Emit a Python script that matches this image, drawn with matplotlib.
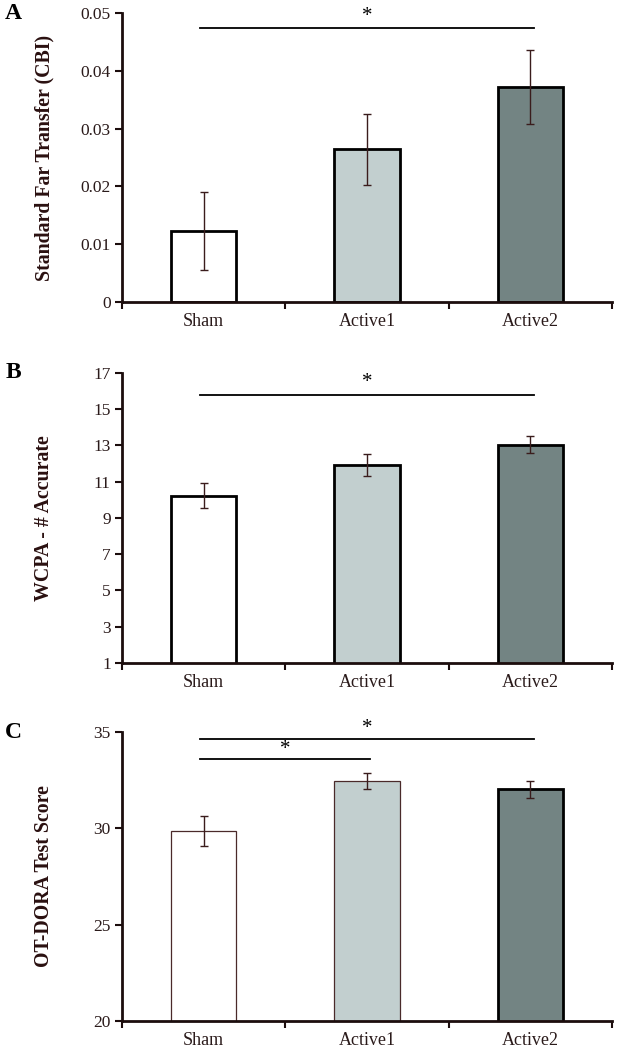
import numpy as np
import matplotlib.pyplot as plt
from matplotlib.ticker import FixedLocator

groups = ['Sham', 'Active1', 'Active2']
bar_colors = ['#ffffff', '#c2cfcf', '#738483']

# panel A - standard far transfer (CBI)
far_mean = [0.0123, 0.0264, 0.0372]
far_err = [0.0068, 0.0062, 0.0064]

# panel B - WCPA accuracy
wcpa_mean = [10.23, 11.92, 13.05]
wcpa_err = [0.70, 0.61, 0.45]

# panel C - OT-DORA test score
dora_mean = [29.84, 32.46, 32.02]
dora_err = [0.78, 0.43, 0.46]

# significance bars: (from, to, y of line, y of star)
far_sig = [(0, 2, 0.0474, 0.0494)]
wcpa_sig = [(0, 2, 15.8, 16.45)]
dora_sig = [(0, 2, 34.64, 35.2), (0, 1, 33.59, 34.1)]

plt.rcParams['font.family'] = ['Liberation Serif', 'DejaVu Serif']
axis_col = '#1c0d0d'
err_col = '#3a1c1c'


def draw_panel(ax, means, errs, ylim, yticks, ylabel, letter, sig, edges, ytickfmt):
    x = np.arange(len(groups))
    for i in range(len(groups)):
        ec, lw = edges[i]
        ax.bar(x[i], means[i], width=0.4, color=bar_colors[i], edgecolor=ec,
               linewidth=lw, zorder=2)
    ax.errorbar(x, means, yerr=errs, fmt='none', ecolor=err_col, elinewidth=1,
                capsize=3, capthick=1, zorder=3)
    for a, b, yl, ys in sig:
        ax.plot([a - 0.02, b + 0.02], [yl, yl], color='black', lw=1.3, zorder=3)
        ax.text((a + b) / 2, ys, '*', ha='center', va='center', fontsize=15,
                color='black')
    ax.set_xlim(-0.5, 2.5)
    ax.set_ylim(*ylim)
    ax.set_yticks(yticks)
    ax.set_yticklabels([ytickfmt(t) for t in yticks])
    ax.set_xticks(x)
    ax.set_xticklabels(groups)
    ax.xaxis.set_minor_locator(FixedLocator([-0.5, 0.5, 1.5, 2.5]))
    ax.tick_params(axis='x', which='major', length=0, pad=8, labelsize=13,
                   labelcolor='#2a1a1a')
    ax.tick_params(axis='x', which='minor', length=5, width=1.5, color=axis_col,
                   direction='out')
    ax.tick_params(axis='y', length=5, width=1.5, color=axis_col, direction='out',
                   labelsize=12.5, labelcolor='#2a1a1a', pad=3)
    for s in ['top', 'right']:
        ax.spines[s].set_visible(False)
    for s in ['left', 'bottom']:
        ax.spines[s].set_linewidth(2)
        ax.spines[s].set_color(axis_col)
    ax.set_ylabel(ylabel, fontsize=14.3, fontweight='bold', color='#2a1010')
    ax.yaxis.set_label_coords(-0.138, 0.5)
    ax.text(-0.222, 1.0, letter, transform=ax.transAxes, fontsize=17,
            fontweight='bold', ha='center', va='center', color='black')


fig = plt.figure(figsize=(6.22, 10.5), dpi=100)
ax_a = fig.add_axes([0.196, 0.7124, 0.788, 0.2752])
ax_b = fig.add_axes([0.196, 0.3686, 0.788, 0.2762])
ax_c = fig.add_axes([0.196, 0.0276, 0.788, 0.2752])

thick = [('black', 2)] * 3
draw_panel(ax_a, far_mean, far_err, (0, 0.05), [0, 0.01, 0.02, 0.03, 0.04, 0.05],
           'Standard Far Transfer (CBI)', 'A', far_sig, thick,
           lambda t: '0' if t == 0 else '%.2f' % t)
draw_panel(ax_b, wcpa_mean, wcpa_err, (1, 17), [1, 3, 5, 7, 9, 11, 13, 15, 17],
           'WCPA - # Accurate', 'B', wcpa_sig, thick, lambda t: '%d' % t)
draw_panel(ax_c, dora_mean, dora_err, (20, 35), [20, 25, 30, 35],
           'OT-DORA Test Score', 'C', dora_sig,
           [('#4a2a2a', 0.9), ('#4a2a2a', 0.9), ('black', 2)], lambda t: '%d' % t)

fig.savefig('out.png', dpi=100)
